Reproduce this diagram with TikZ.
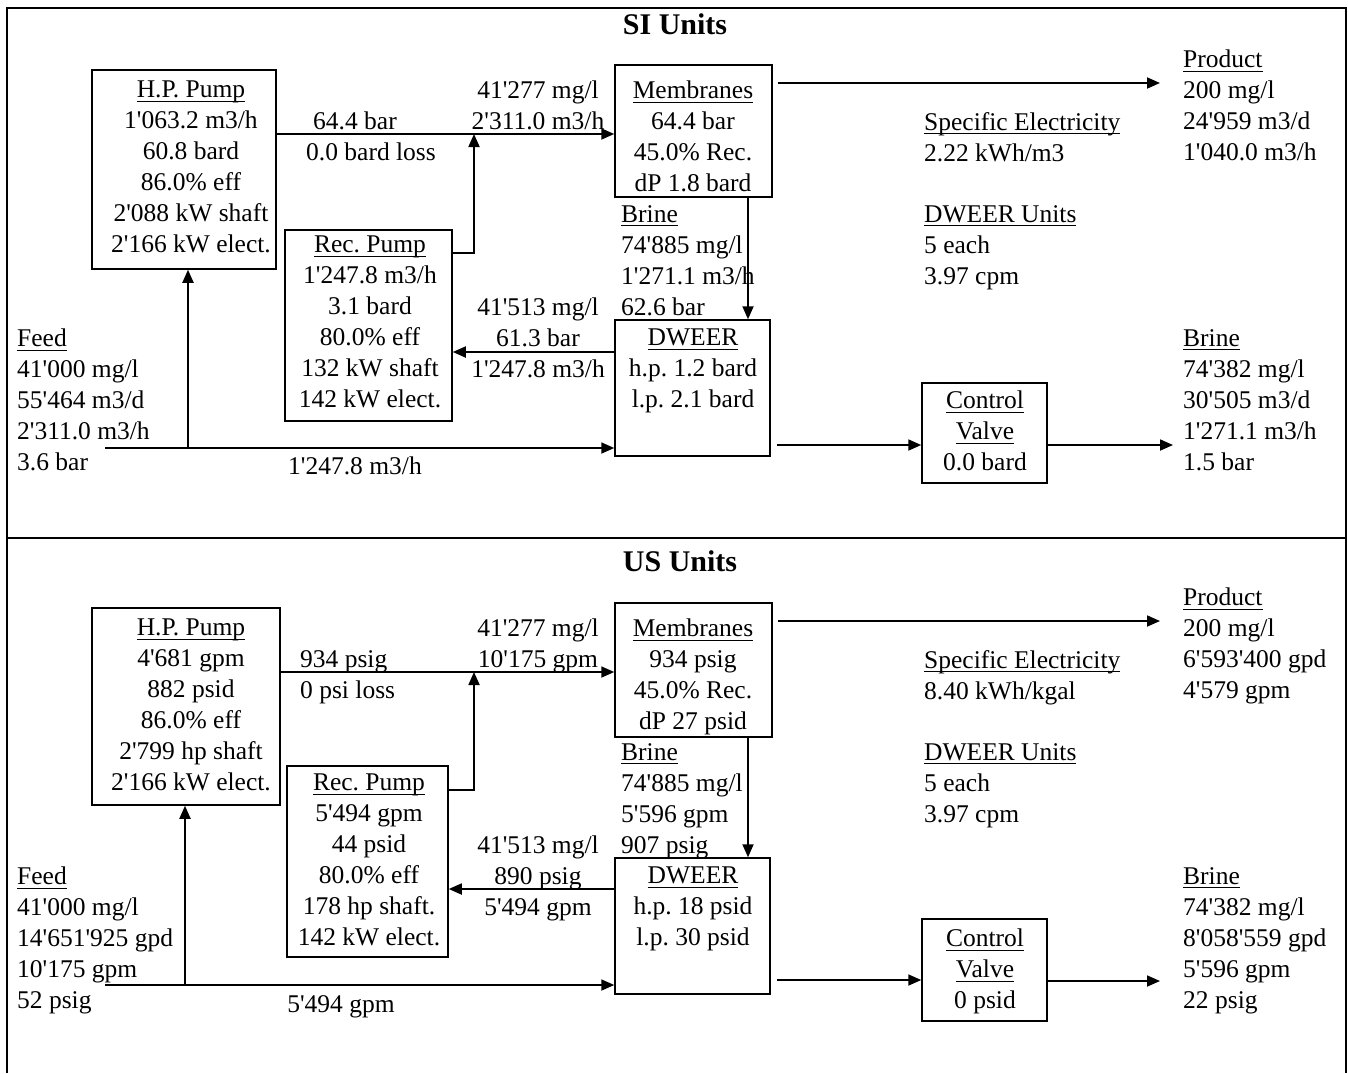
\documentclass[tikz,border=0pt]{standalone}
\usepackage{fontspec}
\setmainfont{Liberation Serif}[Ligatures=TeXOff]
\usetikzlibrary{arrows.meta,fit}
\newcommand\bodyfs{\fontsize{25.5}{31}\selectfont\frenchspacing}
\newcommand\ulx[1]{\setbox0=\hbox{#1}\rlap{\rule[-4pt]{\wd0}{1.3pt}}\box0}
\tikzset{
 box/.style={draw, line width=1.5pt, inner sep=0pt},
 arr/.style={line width=1.8pt, -{Triangle[length=13pt,width=11pt]}},
 tc/.style={font=\bodyfs, inner sep=0pt, align=center, anchor=north, yshift=-4pt, execute at begin node=\strut},
 tl/.style={font=\bodyfs, inner sep=0pt, align=left, anchor=north west, yshift=-4pt, execute at begin node=\strut},
 ttl/.style={font=\fontsize{30}{36}\selectfont\bfseries, inner sep=0pt, anchor=base, yshift=-1pt},
 frameline/.style={line width=1.8pt}
}
\begin{document}
\begin{tikzpicture}[x=1pt,y=-1pt]
\useasboundingbox (0,0) rectangle (1348,1073);
\fill[white] (0,0) rectangle (1348,1073);
\draw[frameline] (7,1073) -- (7,8) -- (1346,8) -- (1346,1073);
\draw[frameline] (7,538) -- (1346,538);

% ---------------- SI Units ----------------
\node[ttl] (siT) at (675,34) {SI Units};
\node[box, fit={(92,70) (276,269)}] (hp) {};
\node[tc] (hpT) at (191,77) {\ulx{H.P. Pump}\\1'063.2 m3/h\\60.8 bard\\86.0\% eff\\2'088 kW shaft\\2'166 kW elect.};
\node[box, fit={(285,230) (452,421)}] (rec) {};
\node[tc] (recT) at (370,232) {\ulx{Rec. Pump}\\1'247.8 m3/h\\3.1 bard\\80.0\% eff\\132 kW shaft\\142 kW elect.};
\node[box, fit={(615,65) (772,197)}] (mem) {};
\node[tc] (memT) at (693,77) {\ulx{Membranes}\\64.4 bar\\45.0\% Rec.\\dP 1.8 bard};
\node[tl] (brT) at (621,201) {\ulx{Brine}\\74'885 mg/l\\1'271.1 m3/h\\62.6 bar};
\node[box, fit={(615,320) (770,456)}] (dw) {};
\node[tc] (dwT) at (693,325) {\ulx{DWEER}\\h.p. 1.2 bard\\l.p. 2.1 bard};
\node[box, fit={(922,383) (1047,483)}] (cv) {};
\node[tc] (cvT) at (985,387) {\ulx{Control}\\\ulx{Valve}\\0.0 bard};
\node[tl] (lossT) at (306,108) {\hspace{7pt}64.4 bar\\0.0 bard loss};
\node[tc] (inT) at (538,77) {41'277 mg/l\\2'311.0 m3/h};
\node[tc] (rcT) at (538,294) {41'513 mg/l\\61.3 bar\\1'247.8 m3/h};
\node[tl] (feedT) at (17,325) {\ulx{Feed}\\41'000 mg/l\\55'464 m3/d\\2'311.0 m3/h\\3.6 bar};
\node[tc] (bpT) at (355,449) {1'247.8 m3/h};
\node[tl] (seT) at (924,108) {\ulx{Specific Electricity}\\2.22 kWh/m3};
\node[tl] (duT) at (924,201) {\ulx{DWEER Units}\\5 each\\3.97 cpm};
\node[tl] (prT) at (1183,46) {\ulx{Product}\\200 mg/l\\24'959 m3/d\\1'040.0 m3/h};
\node[tl] (boT) at (1183,325) {\ulx{Brine}\\74'382 mg/l\\30'505 m3/d\\1'271.1 m3/h\\1.5 bar};

\coordinate (j1) at (474,134);
\coordinate (rj) at (474,253);
\coordinate (pe) at (1160,83);
\coordinate (dv) at (748,260);
\coordinate (rr) at (540,352);
\coordinate (fs) at (105,448);
\coordinate (fb) at (188,448);
\coordinate (ce) at (850,445);
\coordinate (be) at (1173,445);
\draw[arr] (hp.east |- j1) -- (mem.west |- j1);
\draw[arr] (rec.east |- rj) -- (rj) -- (j1);
\draw[arr, shorten <=5pt] (mem.east |- pe) -- (pe);
\draw[arr] (mem.south -| dv) -- (dw.north -| dv);
\draw[arr] (dw.west |- rr) -- (rec.east |- rr);
\draw[arr] (fs) -- (dw.west |- fs);
\draw[arr] (fb) -- (hp.south -| fb);
\draw[arr, shorten <=6pt] (dw.east |- ce) -- (cv.west |- ce);
\draw[arr] (cv.east |- be) -- (be);

% ---------------- US Units ----------------
\begin{scope}[yshift=-538pt]
\node[ttl] (usT) at (680,32) {US Units};
\node[box, fit={(92,70) (280,267)}] (uhp) {};
\node[tc] (uhpT) at (191,77) {\ulx{H.P. Pump}\\4'681 gpm\\882 psid\\86.0\% eff\\2'799 hp shaft\\2'166 kW elect.};
\node[box, fit={(287,228) (448,419)}] (urec) {};
\node[tc] (urecT) at (369,232) {\ulx{Rec. Pump}\\5'494 gpm\\44 psid\\80.0\% eff\\178 hp shaft.\\142 kW elect.};
\node[box, fit={(615,65) (772,199)}] (umem) {};
\node[tc] (umemT) at (693,77) {\ulx{Membranes}\\934 psig\\45.0\% Rec.\\dP 27 psid};
\node[tl] (ubrT) at (621,201) {\ulx{Brine}\\74'885 mg/l\\5'596 gpm\\907 psig};
\node[box, fit={(615,320) (770,456)}] (udw) {};
\node[tc] (udwT) at (693,325) {\ulx{DWEER}\\h.p. 18 psid\\l.p. 30 psid};
\node[box, fit={(922,381) (1047,483)}] (ucv) {};
\node[tc] (ucvT) at (985,387) {\ulx{Control}\\\ulx{Valve}\\0 psid};
\node[tl] (ulossT) at (300,108) {934 psig\\0 psi loss};
\node[tc] (uinT) at (538,77) {41'277 mg/l\\10'175 gpm};
\node[tc] (urcT) at (538,294) {41'513 mg/l\\890 psig\\5'494 gpm};
\node[tl] (ufeedT) at (17,325) {\ulx{Feed}\\41'000 mg/l\\14'651'925 gpd\\10'175 gpm\\52 psig};
\node[tc] (ubpT) at (341,449) {5'494 gpm};
\node[tl] (useT) at (924,108) {\ulx{Specific Electricity}\\8.40 kWh/kgal};
\node[tl] (uduT) at (924,201) {\ulx{DWEER Units}\\5 each\\3.97 cpm};
\node[tl] (uprT) at (1183,46) {\ulx{Product}\\200 mg/l\\6'593'400 gpd\\4'579 gpm};
\node[tl] (uboT) at (1183,325) {\ulx{Brine}\\74'382 mg/l\\8'058'559 gpd\\5'596 gpm\\22 psig};

\coordinate (uj1) at (474,134);
\coordinate (urj) at (474,252);
\coordinate (upe) at (1160,83);
\coordinate (udv) at (748,260);
\coordinate (urr) at (540,351);
\coordinate (ufs) at (105,447);
\coordinate (ufb) at (185,447);
\coordinate (uce) at (850,442);
\coordinate (ube) at (1160,443);
\draw[arr] (uhp.east |- uj1) -- (umem.west |- uj1);
\draw[arr] (urec.east |- urj) -- (urj) -- (uj1);
\draw[arr, shorten <=5pt] (umem.east |- upe) -- (upe);
\draw[arr] (umem.south -| udv) -- (udw.north -| udv);
\draw[arr] (udw.west |- urr) -- (urec.east |- urr);
\draw[arr] (ufs) -- (udw.west |- ufs);
\draw[arr] (ufb) -- (uhp.south -| ufb);
\draw[arr, shorten <=6pt] (udw.east |- uce) -- (ucv.west |- uce);
\draw[arr] (ucv.east |- ube) -- (ube);
\end{scope}
\end{tikzpicture}
\end{document}
